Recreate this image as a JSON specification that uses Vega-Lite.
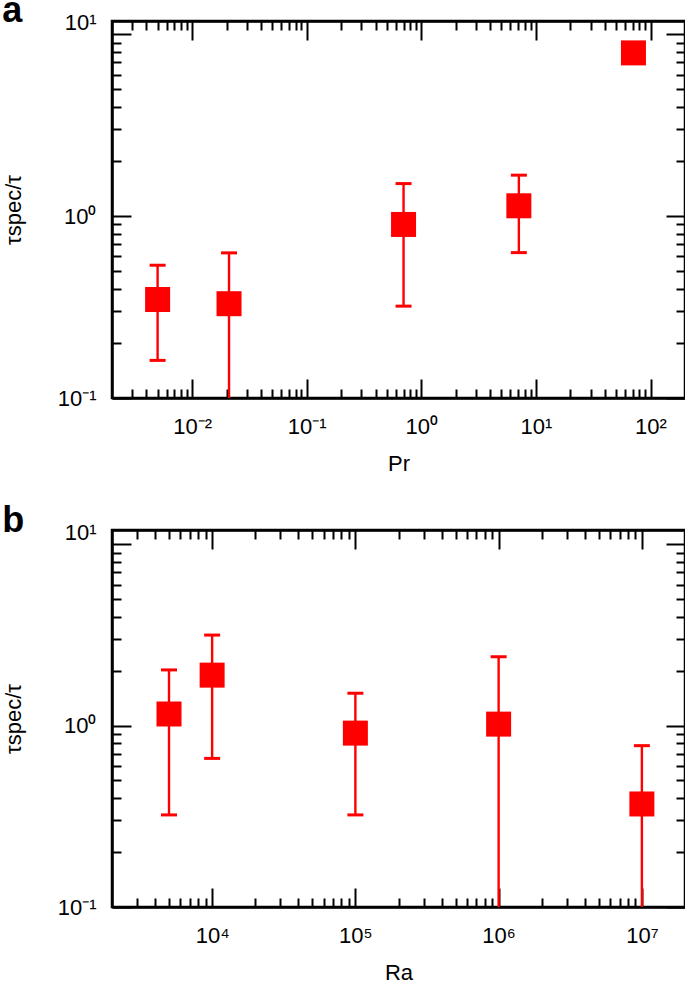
{
  "$schema": "https://vega.github.io/schema/vega-lite/v6.json",
  "padding": {"left": 0, "top": -8, "right": 0, "bottom": 0},
  "background": "white",
  "config": {
    "font": "Liberation Sans",
    "view": {"stroke": "black", "strokeWidth": 2.5},
    "axis": {
      "grid": false,
      "domainColor": "black",
      "domainWidth": 2.5,
      "tickColor": "black",
      "tickWidth": 2,
      "labelColor": "black",
      "labelFont": "Liberation Sans",
      "labelFontSize": 22,
      "labelOverlap": false,
      "labelBound": false,
      "labelFlush": false,
      "titleColor": "black",
      "titleFont": "Liberation Sans",
      "titleFontSize": 22,
      "titleFontWeight": "normal",
      "zindex": 1
    },
    "title": {"font": "Liberation Sans", "fontSize": 36, "fontWeight": "bold", "anchor": "start", "frame": "bounds", "color": "black", "baseline": "alphabetic", "offset": -19, "dx": 0}
  },
  "datasets": {
    "pr": [
      {"x": 0.005, "y": 0.348, "lo": 0.161, "hi": 0.537},
      {"x": 0.021, "y": 0.33, "lo": 0.05, "hi": 0.628},
      {"x": 0.7, "y": 0.9, "lo": 0.32, "hi": 1.51},
      {"x": 7.1, "y": 1.14, "lo": 0.63, "hi": 1.68},
      {"x": 71, "y": 7.9, "lo": null, "hi": null}
    ],
    "ra": [
      {"x": 5000, "y": 1.16, "lo": 0.322, "hi": 2.03},
      {"x": 10000, "y": 1.9, "lo": 0.66, "hi": 3.16},
      {"x": 100000, "y": 0.91, "lo": 0.322, "hi": 1.51},
      {"x": 1000000, "y": 1.02, "lo": 0.05, "hi": 2.4},
      {"x": 10000000, "y": 0.37, "lo": 0.05, "hi": 0.776}
    ]
  },
  "spacing": 26,
  "vconcat": [
    {
      "title": {"text": "a"},
      "width": 573,
      "height": 377,
      "data": {"name": "pr"},
      "resolve": {"axis": {"x": "independent", "y": "independent"}},
      "layer": [
        {
          "transform": [{"filter": "isValid(datum.lo)"}],
          "mark": {"type": "rule", "color": "#ff0000", "strokeWidth": 2.4, "clip": true},
          "encoding": {
            "x": {"field": "x", "type": "quantitative", "scale": {"type": "log", "domain": [0.002, 200], "nice": false},
              "axis": {"orient": "bottom", "title": "Pr", "values": [0.003,0.004,0.005,0.006,0.007,0.008,0.009,0.01,0.02,0.03,0.04,0.05,0.06,0.07,0.08,0.09,0.1,0.2,0.3,0.4,0.5,0.6,0.7,0.8,0.9,1,2,3,4,5,6,7,8,9,10,20,30,40,50,60,70,80,90,100],
                "labelExpr": "abs(log(datum.value)/LN10 - round(log(datum.value)/LN10)) < 0.001 ? '10' + (round(log(datum.value)/LN10) < 0 ? '⁻' : '') + ['⁰','¹','²','³','⁴','⁵','⁶','⁷','⁸','⁹'][abs(round(log(datum.value)/LN10))] : ''",
                "tickSize": {"condition": {"test": "abs(log(datum.value)/LN10 - round(log(datum.value)/LN10)) < 0.001", "value": -19}, "value": -9},
                "labelPadding": 37, "titlePadding": 6}},
            "y": {"field": "lo", "type": "quantitative", "scale": {"type": "log", "domain": [0.1, 11.83], "nice": false},
              "axis": {"orient": "left", "title": "τspec/τ", "values": [0.1,0.2,0.3,0.4,0.5,0.6,0.7,0.8,0.9,1,2,3,4,5,6,7,8,9,10],
                "labelExpr": "abs(log(datum.value)/LN10 - round(log(datum.value)/LN10)) < 0.001 ? '10' + (round(log(datum.value)/LN10) < 0 ? '⁻' : '') + ['⁰','¹','²','³','⁴','⁵','⁶','⁷','⁸','⁹'][abs(round(log(datum.value)/LN10))] : ''",
                "tickSize": {"condition": {"test": "abs(log(datum.value)/LN10 - round(log(datum.value)/LN10)) < 0.001", "value": -19}, "value": -9},
                "labelOffset": {"condition": {"test": "datum.value == 10", "value": -12}, "value": 0},
                "labelPadding": 35, "titlePadding": 32}},
            "y2": {"field": "hi"}
          }
        },
        {
          "transform": [{"filter": "isValid(datum.lo)"}],
          "mark": {"type": "tick", "orient": "horizontal", "color": "#ff0000", "size": 16, "thickness": 3, "clip": true, "opacity": 1},
          "encoding": {
            "x": {"field": "x", "type": "quantitative", "scale": {"type": "log", "domain": [0.002, 200], "nice": false}, "axis": null},
            "y": {"field": "lo", "type": "quantitative", "scale": {"type": "log", "domain": [0.1, 11.83], "nice": false}, "axis": null}
          }
        },
        {
          "transform": [{"filter": "isValid(datum.hi)"}],
          "mark": {"type": "tick", "orient": "horizontal", "color": "#ff0000", "size": 16, "thickness": 3, "clip": true, "opacity": 1},
          "encoding": {
            "x": {"field": "x", "type": "quantitative", "scale": {"type": "log", "domain": [0.002, 200], "nice": false}, "axis": null},
            "y": {"field": "hi", "type": "quantitative", "scale": {"type": "log", "domain": [0.1, 11.83], "nice": false}, "axis": null}
          }
        },
        {
          "mark": {"type": "square", "color": "#ff0000", "size": 625, "filled": true, "opacity": 1},
          "encoding": {
            "x": {"field": "x", "type": "quantitative", "scale": {"type": "log", "domain": [0.002, 200], "nice": false},
              "axis": {"orient": "top", "title": null, "labels": false, "values": [0.003,0.004,0.005,0.006,0.007,0.008,0.009,0.01,0.02,0.03,0.04,0.05,0.06,0.07,0.08,0.09,0.1,0.2,0.3,0.4,0.5,0.6,0.7,0.8,0.9,1,2,3,4,5,6,7,8,9,10,20,30,40,50,60,70,80,90,100],
                "tickSize": {"condition": {"test": "abs(log(datum.value)/LN10 - round(log(datum.value)/LN10)) < 0.001", "value": -19}, "value": -9}}},
            "y": {"field": "y", "type": "quantitative", "scale": {"type": "log", "domain": [0.1, 11.83], "nice": false},
              "axis": {"orient": "right", "title": null, "labels": false, "values": [0.1,0.2,0.3,0.4,0.5,0.6,0.7,0.8,0.9,1,2,3,4,5,6,7,8,9,10],
                "tickSize": {"condition": {"test": "abs(log(datum.value)/LN10 - round(log(datum.value)/LN10)) < 0.001", "value": -19}, "value": -9}}}
          }
        }
      ]
    },
    {
      "title": {"text": "b"},
      "width": 573,
      "height": 377,
      "data": {"name": "ra"},
      "resolve": {"axis": {"x": "independent", "y": "independent"}},
      "layer": [
        {
          "transform": [{"filter": "isValid(datum.lo)"}],
          "mark": {"type": "rule", "color": "#ff0000", "strokeWidth": 2.4, "clip": true},
          "encoding": {
            "x": {"field": "x", "type": "quantitative", "scale": {"type": "log", "domain": [2000, 20000000], "nice": false},
              "axis": {"orient": "bottom", "title": "Ra", "values": [3000,4000,5000,6000,7000,8000,9000,10000,20000,30000,40000,50000,60000,70000,80000,90000,100000,200000,300000,400000,500000,600000,700000,800000,900000,1000000,2000000,3000000,4000000,5000000,6000000,7000000,8000000,9000000,10000000],
                "labelExpr": "abs(log(datum.value)/LN10 - round(log(datum.value)/LN10)) < 0.001 ? '10' + (round(log(datum.value)/LN10) < 0 ? '⁻' : '') + ['⁰','¹','²','³','⁴','⁵','⁶','⁷','⁸','⁹'][abs(round(log(datum.value)/LN10))] : ''",
                "tickSize": {"condition": {"test": "abs(log(datum.value)/LN10 - round(log(datum.value)/LN10)) < 0.001", "value": -19}, "value": -9},
                "labelPadding": 37, "titlePadding": 6}},
            "y": {"field": "lo", "type": "quantitative", "scale": {"type": "log", "domain": [0.1, 12], "nice": false},
              "axis": {"orient": "left", "title": "τspec/τ", "values": [0.1,0.2,0.3,0.4,0.5,0.6,0.7,0.8,0.9,1,2,3,4,5,6,7,8,9,10],
                "labelExpr": "abs(log(datum.value)/LN10 - round(log(datum.value)/LN10)) < 0.001 ? '10' + (round(log(datum.value)/LN10) < 0 ? '⁻' : '') + ['⁰','¹','²','³','⁴','⁵','⁶','⁷','⁸','⁹'][abs(round(log(datum.value)/LN10))] : ''",
                "tickSize": {"condition": {"test": "abs(log(datum.value)/LN10 - round(log(datum.value)/LN10)) < 0.001", "value": -19}, "value": -9},
                "labelOffset": {"condition": {"test": "datum.value == 10", "value": -12}, "value": 0},
                "labelPadding": 35, "titlePadding": 32}},
            "y2": {"field": "hi"}
          }
        },
        {
          "transform": [{"filter": "isValid(datum.lo)"}],
          "mark": {"type": "tick", "orient": "horizontal", "color": "#ff0000", "size": 16, "thickness": 3, "clip": true, "opacity": 1},
          "encoding": {
            "x": {"field": "x", "type": "quantitative", "scale": {"type": "log", "domain": [2000, 20000000], "nice": false}, "axis": null},
            "y": {"field": "lo", "type": "quantitative", "scale": {"type": "log", "domain": [0.1, 12], "nice": false}, "axis": null}
          }
        },
        {
          "transform": [{"filter": "isValid(datum.hi)"}],
          "mark": {"type": "tick", "orient": "horizontal", "color": "#ff0000", "size": 16, "thickness": 3, "clip": true, "opacity": 1},
          "encoding": {
            "x": {"field": "x", "type": "quantitative", "scale": {"type": "log", "domain": [2000, 20000000], "nice": false}, "axis": null},
            "y": {"field": "hi", "type": "quantitative", "scale": {"type": "log", "domain": [0.1, 12], "nice": false}, "axis": null}
          }
        },
        {
          "mark": {"type": "square", "color": "#ff0000", "size": 625, "filled": true, "opacity": 1},
          "encoding": {
            "x": {"field": "x", "type": "quantitative", "scale": {"type": "log", "domain": [2000, 20000000], "nice": false},
              "axis": {"orient": "top", "title": null, "labels": false, "values": [3000,4000,5000,6000,7000,8000,9000,10000,20000,30000,40000,50000,60000,70000,80000,90000,100000,200000,300000,400000,500000,600000,700000,800000,900000,1000000,2000000,3000000,4000000,5000000,6000000,7000000,8000000,9000000,10000000],
                "tickSize": {"condition": {"test": "abs(log(datum.value)/LN10 - round(log(datum.value)/LN10)) < 0.001", "value": -19}, "value": -9}}},
            "y": {"field": "y", "type": "quantitative", "scale": {"type": "log", "domain": [0.1, 12], "nice": false},
              "axis": {"orient": "right", "title": null, "labels": false, "values": [0.1,0.2,0.3,0.4,0.5,0.6,0.7,0.8,0.9,1,2,3,4,5,6,7,8,9,10],
                "tickSize": {"condition": {"test": "abs(log(datum.value)/LN10 - round(log(datum.value)/LN10)) < 0.001", "value": -19}, "value": -9}}}
          }
        }
      ]
    }
  ]
}
